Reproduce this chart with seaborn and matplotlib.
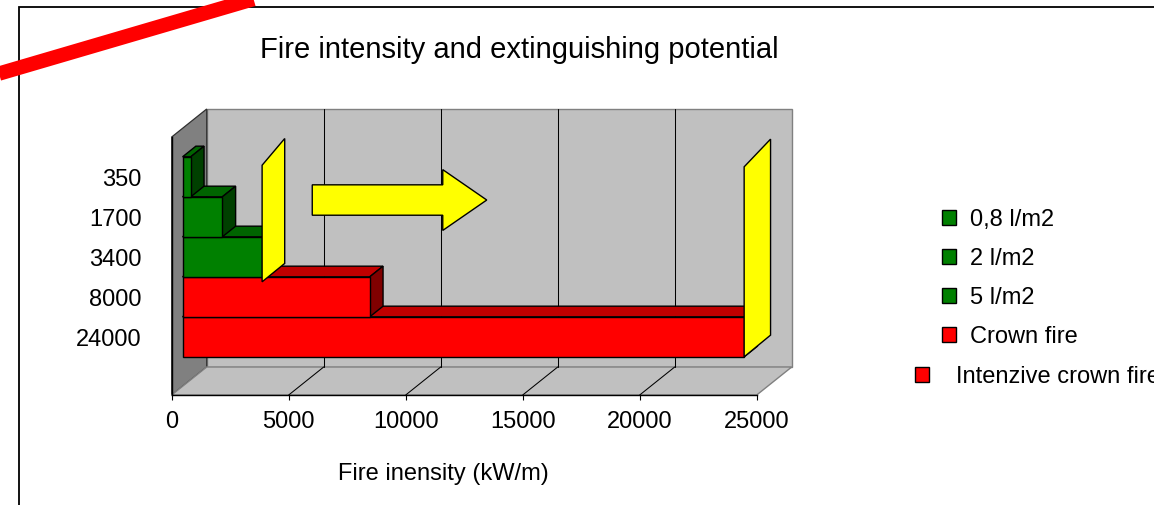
import matplotlib
matplotlib.use("Agg")
import matplotlib.pyplot as plt
from matplotlib.patches import Polygon, Patch, Rectangle
from matplotlib.lines import Line2D
import pandas as pd
import seaborn as sns

# ---- data -------------------------------------------------------------
intensity_labels = ["350", "1700", "3400", "8000", "24000"]
intensity_values = [350, 1700, 3400, 8000, 24000]
series_names = ["0,8 l/m2", "2 l/m2", "5 l/m2", "Crown fire", "Intenzive crown fire"]
x_ticks = [0, 5000, 10000, 15000, 20000, 25000]
limit_values = [3400, 24000]      # yellow limit planes
arrow_span = [5543, 13000]        # yellow arrow, from / to (kW/m)

# ---- style ------------------------------------------------------------
sns.set_theme(style="white")
plt.rcParams["font.family"] = ["Liberation Sans", "DejaVu Sans"]
plt.rcParams["text.color"] = "black"

W, H = 1154, 505
FS = 17
front_cols = ["#008000", "#008000", "#008000", "#FF0000", "#FF0000"]
top_cols = ["#006400", "#006400", "#006400", "#C00000", "#C00000"]
side_cols = ["#004000", "#004000", "#004000", "#800000", "#800000"]
YELLOW = "#FFFF00"
WALL = "#C0C0C0"
WALL_DARK = "#808080"

# front plane of the chart box (pixels) and depth vector of the box
LEFT, RIGHT, TOP, BOTTOM = 171.7, 756.7, 137.0, 395.0
DEPTH_PX = (35.0, 28.0)
CAT_PX = 40.0
BAR_D0, BAR_D1 = 0.31, 0.69

fig = plt.figure(figsize=(W / 100, H / 100), dpi=100)
fig.patch.set_facecolor("white")
ax = fig.add_axes([LEFT / W, 1 - BOTTOM / H, (RIGHT - LEFT) / W, (BOTTOM - TOP) / H])
ax.set_facecolor("none")

df = pd.DataFrame({"label": intensity_labels, "value": intensity_values})
sns.barplot(data=df, x="value", y="label", hue="label", palette=front_cols,
            legend=False, orient="h", width=1.0, saturation=1,
            edgecolor="black", linewidth=1.0, ax=ax)

n = len(intensity_labels)
xmax = x_ticks[-1]
ax.set_xlim(0, xmax)
top_margin = 0.7125
bot_margin = (BOTTOM - TOP) / CAT_PX - n - top_margin
ax.set_ylim(n - 0.5 + bot_margin, -0.5 - top_margin)

px_per_x = (RIGHT - LEFT) / xmax


def pt(x, y, d=0.0, off=(0.0, 0.0)):
    """Data coordinates of (x, y) pushed a fraction d into the box plus a pixel offset."""
    return (x + (d * DEPTH_PX[0] + off[0]) / px_per_x,
            y - (d * DEPTH_PX[1] + off[1]) / CAT_PX)


def face(points, fc, ec, lw, z):
    ax.add_patch(Polygon(points, closed=True, facecolor=fc, edgecolor=ec,
                         linewidth=lw, zorder=z, clip_on=False, joinstyle="miter"))


y0, y1 = ax.get_ylim()[1], ax.get_ylim()[0]   # visual top / bottom in data units

# walls and floor
face([pt(0, y0, 1), pt(xmax, y0, 1), pt(xmax, y1, 1), pt(0, y1, 1)], WALL, WALL_DARK, 1.0, 0.5)
face([pt(0, y0, 0), pt(0, y0, 1), pt(0, y1, 1), pt(0, y1, 0)], WALL_DARK, "#303030", 0.9, 0.6)
face([pt(0, y1, 0), pt(xmax, y1, 0), pt(xmax, y1, 1), pt(0, y1, 1)], WALL, WALL_DARK, 1.0, 0.6)
for xv in x_ticks[1:-1]:
    ax.add_line(Line2D(*zip(pt(xv, y0, 1), pt(xv, y1, 1)), color="black", lw=0.75,
                       zorder=0.7, clip_on=False))
    ax.add_line(Line2D(*zip(pt(xv, y1, 0), pt(xv, y1, 1)), color="black", lw=0.75,
                       zorder=0.7, clip_on=False))

# 3D bars: move seaborn's bars onto the bar plane and add top and side faces
for p in list(ax.patches):
    if not isinstance(p, Rectangle):
        continue
    i = int(round(p.get_y() + p.get_height() / 2))
    v = p.get_width()
    yt, yb = p.get_y(), p.get_y() + p.get_height()
    nx, ny = pt(p.get_x(), yt, BAR_D0)
    p.set_x(nx)
    p.set_y(ny)
    base = 3 + (n - i) * 0.1
    p.set_zorder(base + 0.05)
    face([pt(0, yt, BAR_D0), pt(v, yt, BAR_D0), pt(v, yt, BAR_D1), pt(0, yt, BAR_D1)],
         top_cols[i], "black", 1.0, base)
    face([pt(v, yt, BAR_D0), pt(v, yt, BAR_D1), pt(v, yb, BAR_D1), pt(v, yb, BAR_D0)],
         side_cols[i], "black", 1.0, base)

# yellow limit planes (front edge at the limit value on the bar plane)
plane_extent = [(-0.29, 2.625, (22.6, 26.7), (22.6, 18.4)),
                (-0.25, 4.5, (26.4, 27.7), (26.4, 21.7))]
for v, (ya, yb, off_t, off_b) in zip(limit_values, plane_extent):
    face([pt(v, yb, BAR_D0), pt(v, ya, BAR_D0),
          pt(v, ya, BAR_D0, off_t), pt(v, yb, BAR_D0, off_b)],
         YELLOW, "black", 1.0, 6)

# yellow arrow on the back wall
yc, sh, hh = 0.58, 0.38, 0.76
head_len = 44.0 / px_per_x
xa, xb = arrow_span
xh = xb - head_len
arrow_pts = [(xa, yc - sh), (xh, yc - sh), (xh, yc - hh), (xb, yc),
             (xh, yc + hh), (xh, yc + sh), (xa, yc + sh)]
face([pt(x, y, BAR_D0) for x, y in arrow_pts], YELLOW, "black", 1.0, 4)

# axes decoration
for s in ["top", "right"]:
    ax.spines[s].set_visible(False)
for s in ["left", "bottom"]:
    ax.spines[s].set_visible(True)
    ax.spines[s].set_color("black")
    ax.spines[s].set_linewidth(1.0)
    ax.spines[s].set_zorder(2)
ax.set_xticks(x_ticks)
ax.set_xticklabels([str(t) for t in x_ticks])
ax.tick_params(axis="x", direction="out", length=3.6, width=0.8, color="black",
               labelsize=FS, pad=8.0, labelcolor="black", bottom=True)
ax.tick_params(axis="y", length=0, pad=21.6, labelsize=FS, labelcolor="black", left=True)
for lab in ax.get_yticklabels():
    lab.set_verticalalignment("baseline")
ax.set_ylabel("")
ax.set_xlabel("Fire inensity (kW/m)", fontsize=FS, color="black")
ax.xaxis.set_label_coords((443.5 - LEFT) / (RIGHT - LEFT), (BOTTOM - 480.0) / (BOTTOM - TOP))
ax.xaxis.label.set_verticalalignment("baseline")

fig.suptitle("Fire intensity and extinguishing potential", x=519.0 / W, y=1 - 57.7 / H,
             va="baseline", ha="center", fontsize=21)

# legends
handles = [Patch(facecolor=c, edgecolor="black", linewidth=1.0) for c in front_cols]
leg_kw = dict(frameon=False, borderpad=0, borderaxespad=0, fontsize=FS,
              handlelength=0.58, handleheight=0.58, loc="center left")
fig.legend(handles[:4], series_names[:4], bbox_to_anchor=(942.3 / W, 1 - 278.5 / H),
           labelspacing=0.72, handletextpad=0.6, **leg_kw)
fig.legend(handles[4:], series_names[4:], bbox_to_anchor=(915.0 / W, 1 - 376.7 / H),
           handletextpad=1.15, **leg_kw)

# outer frame and red stroke
fig.add_artist(Rectangle((19.0 / W, -0.1), 2.0, 1.1 - 7.0 / H, transform=fig.transFigure,
                         fill=False, edgecolor="black", linewidth=1.3, zorder=-1))
fig.add_artist(Line2D([-30 / W, 290 / W], [1 - 82.1 / H, 1 + 11.7 / H],
                      transform=fig.transFigure, color="#FF0000", lw=10.4,
                      solid_capstyle="butt", zorder=20))

fig.savefig("out.png", dpi=100)
